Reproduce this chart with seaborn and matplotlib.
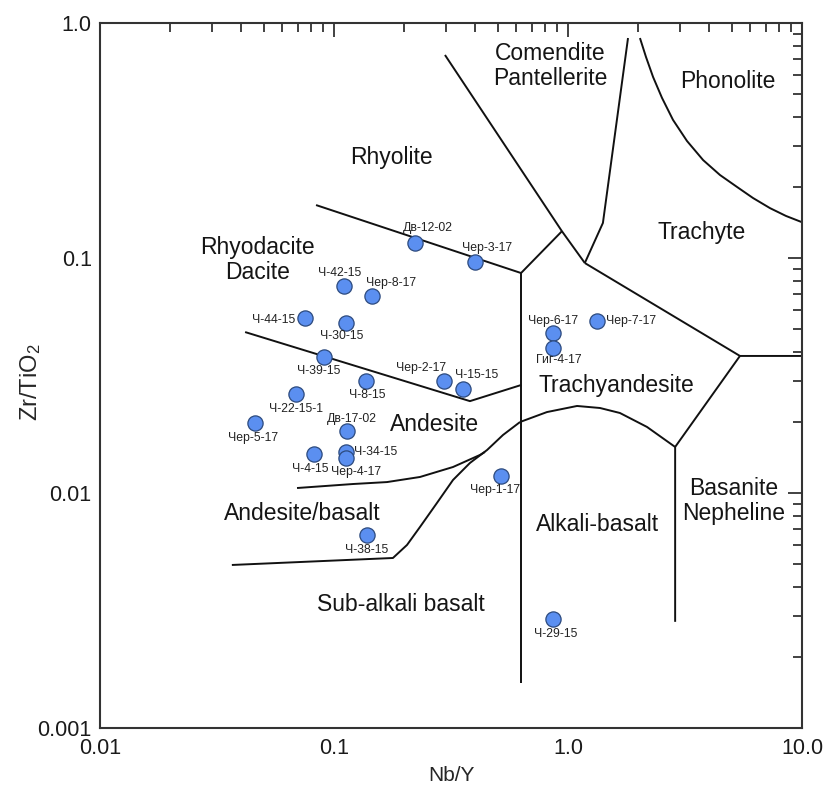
import numpy as np
import pandas as pd
import matplotlib
matplotlib.use("Agg")
import matplotlib.pyplot as plt
import seaborn as sns
from matplotlib.ticker import FixedLocator, FixedFormatter, LogLocator, NullFormatter

# ---------------- data ----------------
samples = ["Дв-12-02", "Чер-3-17", "Ч-42-15", "Чер-8-17", "Ч-44-15", "Ч-30-15",
           "Ч-39-15", "Ч-8-15", "Чер-2-17", "Ч-15-15", "Ч-22-15-1", "Чер-5-17",
           "Дв-17-02", "Ч-34-15", "Чер-4-17", "Ч-4-15", "Ч-38-15", "Чер-1-17",
           "Чер-6-17", "Гиг-4-17", "Чер-7-17", "Ч-29-15"]
nb_y = [0.222, 0.401, 0.110, 0.146, 0.075, 0.113,
        0.091, 0.137, 0.295, 0.357, 0.069, 0.046,
        0.114, 0.113, 0.112, 0.082, 0.138, 0.517,
        0.860, 0.859, 1.334, 0.859]
zr_tio2 = [0.1155, 0.0964, 0.0760, 0.0691, 0.0557, 0.0530,
           0.0380, 0.0300, 0.0300, 0.0277, 0.0263, 0.0198,
           0.0184, 0.0150, 0.01405, 0.0146, 0.00663, 0.01185,
           0.0478, 0.0415, 0.0539, 0.00291]

# field boundaries (Nb/Y, Zr/TiO2)
b_rhy_rhyodac_x = [0.0838, 0.630]
b_rhy_rhyodac_y = [0.168, 0.0863]
b_short_x = [0.630, 0.942]
b_short_y = [0.0863, 0.130]
b_comendite_x = [0.298, 0.942, 1.18]
b_comendite_y = [0.731, 0.130, 0.0952]
b_com_trach_x = [1.18, 1.41, 1.805]
b_com_trach_y = [0.0952, 0.141, 0.863]
b_phonolite_x = [2.03, 2.154, 2.31, 2.522, 2.81, 3.225, 3.78, 4.462, 5.28, 6.175, 7.30, 8.54, 10.0]
b_phonolite_y = [0.863, 0.717, 0.589, 0.480, 0.387, 0.3147, 0.261, 0.2255, 0.2005, 0.180, 0.163, 0.151, 0.142]
b_trach_tra_x = [1.18, 5.43, 10.0]
b_trach_tra_y = [0.0952, 0.0383, 0.0383]
b_basanite_x = [5.43, 2.87, 2.87]
b_basanite_y = [0.0383, 0.0157, 0.00283]
b_vertical_x = [0.630, 0.630]
b_vertical_y = [0.0863, 0.001554]
b_rhyodac_and_x = [0.0417, 0.381, 0.630]
b_rhyodac_and_y = [0.0484, 0.0246, 0.0288]
b_and_andbas_x = [0.0695, 0.1205, 0.1684, 0.2331, 0.3225, 0.4207, 0.4416]
b_and_andbas_y = [0.0105, 0.01092, 0.01113, 0.01170, 0.01290, 0.01452, 0.01495]
b_andbas_sub_x = [0.0366, 0.1786, 0.2051, 0.2331, 0.2754, 0.3225, 0.381, 0.4510, 0.5273, 0.6238]
b_andbas_sub_y = [0.00494, 0.00529, 0.00601, 0.00717, 0.00907, 0.01136, 0.01342, 0.01524, 0.01765, 0.02005]
b_hump_x = [0.6238, 0.8128, 1.093, 1.37, 1.667, 2.176, 2.87]
b_hump_y = [0.02005, 0.0221, 0.02346, 0.0230, 0.0219, 0.0191, 0.0157]

boundaries = [
    (b_rhy_rhyodac_x, b_rhy_rhyodac_y), (b_short_x, b_short_y),
    (b_comendite_x, b_comendite_y), (b_com_trach_x, b_com_trach_y),
    (b_phonolite_x, b_phonolite_y), (b_trach_tra_x, b_trach_tra_y),
    (b_basanite_x, b_basanite_y), (b_vertical_x, b_vertical_y),
    (b_rhyodac_and_x, b_rhyodac_and_y), (b_and_andbas_x, b_and_andbas_y),
    (b_andbas_sub_x, b_andbas_sub_y), (b_hump_x, b_hump_y),
]

region_names = ["Comendite\nPantellerite", "Phonolite", "Rhyolite", "Rhyodacite\nDacite",
                "Trachyte", "Trachyandesite", "Andesite", "Basanite\nNepheline",
                "Alkali-basalt", "Andesite/basalt", "Sub-alkali basalt"]

x_ticks = [0.01, 0.1, 1.0, 10.0]
x_tick_labels = ["0.01", "0.1", "1.0", "10.0"]
y_ticks = [0.001, 0.01, 0.1, 1.0]
y_tick_labels = ["0.001", "0.01", "0.1", "1.0"]

# ---------------- layout (positions) ----------------
region_pos = [(0.838, 0.656), (4.83, 0.561), (0.1752, 0.2664), (0.0473, 0.0981),
              (3.74, 0.1278), (1.603, 0.0288), (0.270, 0.01948), (5.12, 0.00925),
              (1.343, 0.00731), (0.0729, 0.00822), (0.193, 0.00334)]
# label offsets in pixels (dx right, dy down) and horizontal alignment
label_off = {
    "Дв-12-02": (13, -15, "center"), "Чер-3-17": (12, -14, "center"),
    "Ч-42-15": (-4, -13, "center"), "Чер-8-17": (19, -13, "center"),
    "Ч-44-15": (-10, 2, "right"), "Ч-30-15": (-5, 13, "center"),
    "Ч-39-15": (-6, 14, "center"), "Ч-8-15": (1, 14, "center"),
    "Чер-2-17": (-23, -13, "center"), "Ч-15-15": (13, -14, "center"),
    "Ч-22-15-1": (0, 15, "center"), "Чер-5-17": (-2, 15, "center"),
    "Дв-17-02": (5, -12, "center"), "Ч-34-15": (8, 0, "left"),
    "Чер-4-17": (11, 14, "center"), "Ч-4-15": (-4, 15, "center"),
    "Ч-38-15": (0, 15, "center"), "Чер-1-17": (-6, 14, "center"),
    "Чер-6-17": (0, -12, "center"), "Гиг-4-17": (6, 12, "center"),
    "Чер-7-17": (9, 0, "left"), "Ч-29-15": (3, 15, "center"),
}

# ---------------- style ----------------
sns.set_theme(style="white")
plt.rcParams["font.family"] = ["Liberation Sans", "DejaVu Sans"]
plt.rcParams["mathtext.fontset"] = "custom"
plt.rcParams["mathtext.rm"] = "Liberation Sans"
plt.rcParams["mathtext.it"] = "Liberation Sans:italic"
plt.rcParams["text.color"] = "#1a1a1a"

fig = plt.figure(figsize=(8.27, 7.87), dpi=100)
ax = fig.add_axes([100 / 827, 1 - 728 / 787, 702 / 827, 705 / 787])

for bx, by in boundaries:
    ax.plot(bx, by, color="#111111", lw=1.4, solid_capstyle="butt",
            solid_joinstyle="round", zorder=2)

df = pd.DataFrame({"sample": samples, "Nb/Y": nb_y, "Zr/TiO2": zr_tio2})
sns.scatterplot(data=df, x="Nb/Y", y="Zr/TiO2", ax=ax, s=120,
                color="#5b8ff0", edgecolor="#2c4a7e", linewidth=0.9, zorder=4, legend=False)

for name, xv, yv in zip(samples, nb_y, zr_tio2):
    dx, dy, ha = label_off[name]
    ax.annotate(name, (xv, yv), xytext=(dx, -dy), textcoords="offset pixels",
                ha=ha, va="center", fontsize=8.8, color="#222222", zorder=5)

for name, (xv, yv) in zip(region_names, region_pos):
    ax.text(xv, yv, name, ha="center", va="center", fontsize=16.5,
            color="#151515", linespacing=1.1, zorder=3)

ax.set_xscale("log")
ax.set_yscale("log")
ax.set_xlim(0.01, 10.0)
ax.set_ylim(0.001, 1.0)
ax.xaxis.set_major_locator(FixedLocator(x_ticks))
ax.xaxis.set_major_formatter(FixedFormatter(x_tick_labels))
ax.yaxis.set_major_locator(FixedLocator(y_ticks))
ax.yaxis.set_major_formatter(FixedFormatter(y_tick_labels))
ax.xaxis.set_minor_locator(LogLocator(base=10, subs=np.arange(2, 10)))
ax.yaxis.set_minor_locator(LogLocator(base=10, subs=np.arange(2, 10)))
ax.xaxis.set_minor_formatter(NullFormatter())
ax.yaxis.set_minor_formatter(NullFormatter())

ax.tick_params(which="both", direction="in", top=True, right=True,
               color="#333333", width=1.3, labelsize=15.5, labelcolor="#1a1a1a")
ax.tick_params(which="major", length=10)
ax.tick_params(axis="x", which="major", pad=7)
ax.tick_params(axis="y", which="major", pad=6)
ax.tick_params(which="minor", length=6.5)

for sp in ax.spines.values():
    sp.set_color("#333333")
    sp.set_linewidth(1.5)

ax.set_xlabel("Nb/Y", fontsize=15, labelpad=5)
ax.set_ylabel(r"Zr/TiO$_\mathregular{2}$", fontsize=17)
ax.yaxis.set_label_coords(-0.081, 0.49)

fig.savefig("out.png", dpi=100, facecolor="white")
